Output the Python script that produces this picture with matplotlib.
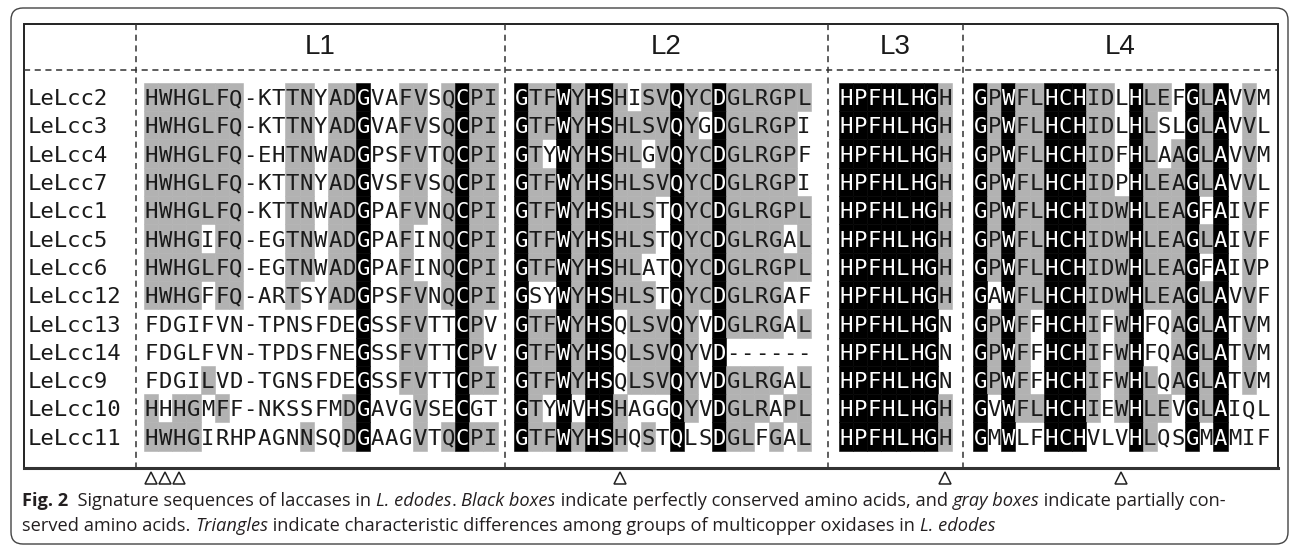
import matplotlib
matplotlib.use("Agg")
import matplotlib.pyplot as plt
from matplotlib import font_manager
from matplotlib.patches import Rectangle, FancyBboxPatch

# ---- data -------------------------------------------------------------
names = ["LeLcc2", "LeLcc3", "LeLcc4", "LeLcc7", "LeLcc1", "LeLcc5", "LeLcc6",
         "LeLcc12", "LeLcc13", "LeLcc14", "LeLcc9", "LeLcc10", "LeLcc11"]

l1_seq = [
    "HWHGLFQ-KTTNYADGVAFVSQCPI",
    "HWHGLFQ-KTTNYADGVAFVSQCPI",
    "HWHGLFQ-EHTNWADGPSFVTQCPI",
    "HWHGLFQ-KTTNYADGVSFVSQCPI",
    "HWHGLFQ-KTTNWADGPAFVNQCPI",
    "HWHGIFQ-EGTNWADGPAFINQCPI",
    "HWHGLFQ-EGTNWADGPAFINQCPI",
    "HWHGFFQ-ARTSYADGPSFVNQCPI",
    "FDGIFVN-TPNSFDEGSSFVTTCPV",
    "FDGLFVN-TPDSFNEGSSFVTTCPV",
    "FDGILVD-TGNSFDEGSSFVTTCPI",
    "HHHGMFF-NKSSFMDGAVGVSECGT",
    "HWHGIRHPAGNNSQDGAAGVTQCPI",
]
# k = black box (conserved), g = gray box (partially conserved), . = none
l1_box = [
    "ggggggg...gg.ggk..gg.gkgg",
    "ggggggg...gg.ggk..gg.gkgg",
    "ggggggg...gg.ggk..gg.gkgg",
    "ggggggg...gg.ggk..gg.gkgg",
    "ggggggg...gg.ggk..gg.gkgg",
    "gggg.gg...gg.ggk..g..gkgg",
    "ggggggg...gg.ggk..g..gkgg",
    "gggg.gg...g..ggk..gg.gkgg",
    "...............k..gg..kg.",
    "...............k..gg..kg.",
    "....g..........k..gg..kgg",
    "g.gg.g........gk...g..k..",
    "gggg.......g..gk...g.gkgg",
]

l2_seq = [
    "GTFWYHSHISVQYCDGLRGPL",
    "GTFWYHSHLSVQYGDGLRGPI",
    "GTYWYHSHLGVQYCDGLRGPF",
    "GTFWYHSHLSVQYCDGLRGPI",
    "GTFWYHSHLSTQYCDGLRGPL",
    "GTFWYHSHLSTQYCDGLRGAL",
    "GTFWYHSHLATQYCDGLRGPL",
    "GSYWYHSHLSTQYCDGLRGAF",
    "GTFWYHSQLSVQYVDGLRGAL",
    "GTFWYHSQLSVQYVD------",
    "GTFWYHSQLSVQYVDGLRGAL",
    "GTYWVHSHAGGQYVDGLRAPL",
    "GTFWYHSHQSTQLSDGLFGAL",
]
l2_box = [
    "kggkgkkg.ggkggkgggggg",
    "kggkgkkggggkg.kggggg.",
    "kg.kgkkgg.gkggkggggg.",
    "kggkgkkggggkggkggggg.",
    "kggkgkkggg.kggkgggggg",
    "kggkgkkggg.kggkgggg.g",
    "kggkgkkgg..kggkgggggg",
    "k..kgkkggg.kggkgggg..",
    "kggkgkk.gggkg.kgggg.g",
    "kggkgkk.gggkg.k......",
    "kggkgkk.gggkg.kgggg.g",
    "kg.k.kkg...kg.kggg.gg",
    "kggkgkkg.g.k..kgg.g.g",
]

l3_seq = ["HPFHLHGH"] * 8 + ["HPFHLHGN"] * 3 + ["HPFHLHGH"] * 2
l3_box = ["kkkkkkkg"] * 8 + ["kkkkkkk."] * 3 + ["kkkkkkkg"] * 2

l4_seq = [
    "GPWFLHCHIDLHLEFGLAVVM",
    "GPWFLHCHIDLHLSLGLAVVL",
    "GPWFLHCHIDFHLAAGLAVVM",
    "GPWFLHCHIDPHLEAGLAVVL",
    "GPWFLHCHIDWHLEAGFAIVF",
    "GPWFLHCHIDWHLEAGLAIVF",
    "GPWFLHCHIDWHLEAGFAIVP",
    "GAWFLHCHIDWHLEAGLAVVF",
    "GPWFFHCHIFWHFQAGLATVM",
    "GPWFFHCHIFWHFQAGLATVM",
    "GPWFFHCHIFWHLQAGLATVM",
    "GVWFLHCHIEWHLEVGLAIQL",
    "GMWLFHCHVLVHLQSGMAMIF",
]
l4_box = [
    "kgkggkkkgg.kgg.kgk.g.",
    "kgkggkkkgg.kg..kgk.g.",
    "kgkggkkkgg.kg.gkgk.g.",
    "kgkggkkkgg.kgggkgk.g.",
    "kgkggkkkgggkgggk.k.g.",
    "kgkggkkkgggkgggkgk.g.",
    "kgkggkkkgggkgggk.k.g.",
    "k.kggkkkgggkgggkgk.g.",
    "kgkg.kkkg.gk..gkgk.g.",
    "kgkg.kkkg.gk..gkgk.g.",
    "kgkg.kkkg.gkg.gkgk.g.",
    "k.kggkkkg.gkgg.kgk...",
    "k.k..kkk...kg..k.k...",
]

block_names = ["L1", "L2", "L3", "L4"]
block_seqs = [l1_seq, l2_seq, l3_seq, l4_seq]
block_boxes = [l1_box, l2_box, l3_box, l4_box]
triangle_cols = [[0, 1, 2], [7], [7], [10]]

# ---- layout -------------------------------------------------------------
W, H = 1290, 547
box_l, box_r, box_t, box_b = 24, 1278, 24, 468
header_y = 70
dividers = [136, 505, 828, 963]
block_x0 = [144, 514, 839, 973]
cell_w = 14.14
row_y0, row_h = 97, 28.3
gray = "#b2b2b2"
ink = "#1a1a1a"
mono = "DejaVu Sans Mono"
seq_size = 16
cap_half = seq_size * 100 / 72 * 0.729 / 2

fig = plt.figure(figsize=(W / 100, H / 100), dpi=100)
ax = fig.add_axes([0, 0, 1, 1])
ax.set_xlim(0, W)
ax.set_ylim(H, 0)
ax.axis("off")

# outer rounded frame
ax.add_patch(FancyBboxPatch((11, 8), 1277, 536,
                            boxstyle="round,pad=0,rounding_size=12",
                            fc="none", ec="#444444", lw=1.0))
# table frame
ax.add_patch(Rectangle((box_l, box_t), box_r - box_l, box_b - box_t,
                       fc="none", ec="#222222", lw=1.4))
ax.plot([box_l, box_r], [box_b, box_b], color="#333333", lw=2.2)
ax.plot([box_l, box_r], [header_y, header_y], color="#333333", lw=1.1,
        ls=(0, (4, 3)))
for xd in dividers:
    ax.plot([xd, xd], [box_t, box_b], color="#333333", lw=1.1, ls=(0, (4, 3)))

avail = {f.name for f in font_manager.fontManager.ttflist}
head_font = "Liberation Sans" if "Liberation Sans" in avail else "DejaVu Sans"
edges = dividers + [box_r]
for i, name in enumerate(block_names):
    ax.text((edges[i] + edges[i + 1]) / 2, 47, name, ha="center", va="center",
            fontsize=20, family=head_font, color=ink)

for r, name in enumerate(names):
    yc = row_y0 + r * row_h
    ax.text(28, yc + cap_half, name, ha="left", va="baseline",
            family=mono, fontsize=seq_size, color=ink)

for b in range(4):
    x0 = block_x0[b]
    for r, (seq, box) in enumerate(zip(block_seqs[b], block_boxes[b])):
        yc = row_y0 + r * row_h
        for c, (ch, bx) in enumerate(zip(seq, box)):
            xl = x0 + c * cell_w
            col = ink
            if bx in "kg":
                fc = "black" if bx == "k" else gray
                ax.add_patch(Rectangle((xl, yc - row_h / 2), cell_w, row_h,
                                       fc=fc, ec=fc, lw=0.4))
                if bx == "k":
                    col = "white"
            ax.text(xl + cell_w / 2, yc + cap_half, ch, ha="center",
                    va="baseline", family=mono, fontsize=seq_size, color=col)
    for c in triangle_cols[b]:
        ax.plot(x0 + (c + 0.5) * cell_w, 478, marker="^", ms=9,
                mfc="white", mec="#222222", mew=1.1, ls="none")

# ---- caption -------------------------------------------------------------
cap_font = "Open Sans" if "Open Sans" in avail else "DejaVu Sans"
renderer = fig.canvas.get_renderer()


def text_width(s, size, weight, style):
    t = ax.text(0, 0, "|" + s + "|", fontsize=size, family=cap_font,
                weight=weight, style=style)
    w1 = t.get_window_extent(renderer).width
    t.set_text("||")
    w0 = t.get_window_extent(renderer).width
    t.remove()
    return w1 - w0


line1 = [("Fig. 2", "bold", "normal"),
         ("  Signature sequences of laccases in ", "normal", "normal"),
         ("L. edodes", "normal", "italic"),
         (". ", "normal", "normal"),
         ("Black boxes", "normal", "italic"),
         (" indicate perfectly conserved amino acids, and ", "normal", "normal"),
         ("gray boxes", "normal", "italic"),
         (" indicate partially con-", "normal", "normal")]
line2 = [("served amino acids. ", "normal", "normal"),
         ("Triangles", "normal", "italic"),
         (" indicate characteristic differences among groups of multicopper oxidases in ",
          "normal", "normal"),
         ("L. edodes", "normal", "italic")]

cap_x0 = 22
w10 = sum(text_width(s, 10, w, st) for s, w, st in line1)
cap_size = 10 * (1230 - cap_x0) / w10

for runs, yb in [(line1, 506), (line2, 531)]:
    x = cap_x0
    for s, w, st in runs:
        ax.text(x, yb, s, fontsize=cap_size, family=cap_font, weight=w,
                style=st, va="baseline", ha="left", color="#231f20")
        x += text_width(s, cap_size, w, st)

fig.savefig("out.png", dpi=100)
